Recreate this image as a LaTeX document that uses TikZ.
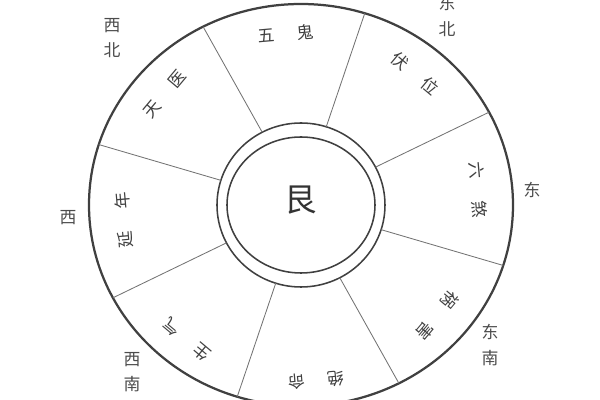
\documentclass[tikz,border=0pt]{standalone}
\usepackage{fontspec}
\newfontfamily\cjk{Noto Sans CJK SC}
\usepackage{xcolor}

\begin{document}
\begin{tikzpicture}[x=0.025cm,y=0.025cm,
  ring/.style={draw=black!75, line width=1.1pt},
  spoke/.style={draw=black!55, line width=0.6pt},
  gua/.style={font=\cjk\fontsize{12}{14}\selectfont, text=black!75, inner sep=1pt},
  fang/.style={font=\cjk\fontsize{12}{18}\selectfont, text=black!70, align=center, inner sep=0pt}]
\useasboundingbox (-301,-195) rectangle (299,205);

\draw [ring, line width=1.6pt] (0,0) ellipse [x radius=212, y radius=201];
\draw [ring] (0,0) ellipse [x radius=84, y radius=82];
\draw [ring] (0,0) ellipse [x radius=74, y radius=68];

\foreach \a in {27.5,72.5,...,342.5}
  \draw [spoke] (\a:84 and 82) -- (\a:212 and 201);

\node (gen) [font=\cjk\fontsize{23}{23}\selectfont, text=black!80] at (0,5) {艮};

\node (wugui)  [gua, rotate=5]    at (95:178 and 172)  {五\hspace{16pt}鬼};
\node (fuwei)  [gua, rotate=-40]  at (50:178 and 172)  {伏\hspace{16pt}位};
\node (liusha) [gua, rotate=-85]  at (5:178 and 172)   {六\hspace{16pt}煞};
\node (huohai) [gua, rotate=-130] at (-40:178 and 172) {祸\hspace{16pt}害};
\node (jueming)[gua, rotate=-175] at (-85:178 and 176) {绝\hspace{16pt}命};
\node (shengqi)[gua, rotate=140]  at (-130:178 and 176) {生\hspace{16pt}气};
\node (yannian)[gua, rotate=95]   at (185:178 and 172) {延\hspace{16pt}年};
\node (tianyi) [gua, rotate=50]   at (140:178 and 172) {天\hspace{16pt}医};

\node (xibei)   [fang] at (-189,167) {西\\北};
\node (dongbei) [fang] at (146,189)  {东\\北};
\node (dong)    [fang] at (231,15)   {东};
\node (dongnan) [fang] at (189,-140) {东\\南};
\node (xinan)   [fang] at (-169,-167) {西\\南};
\node (xi)      [fang] at (-233,-13) {西};
\end{tikzpicture}
\end{document}
